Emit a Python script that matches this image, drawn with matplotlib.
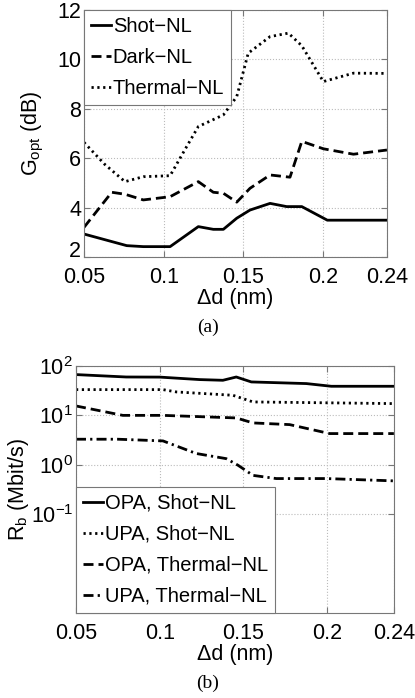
import matplotlib
matplotlib.use('Agg')
import matplotlib.pyplot as plt

plt.rcParams['font.family'] = ['Liberation Sans', 'DejaVu Sans']
plt.rcParams['mathtext.fontset'] = 'custom'
plt.rcParams['mathtext.rm'] = 'Liberation Sans'
plt.rcParams['mathtext.it'] = 'Liberation Sans:italic'

# (a) optimum gain
shot_x = [0.05, 0.0768, 0.0872, 0.104, 0.1217, 0.1311, 0.1374, 0.1458, 0.1541, 0.1667, 0.1771, 0.1866, 0.2026, 0.24]
shot_y = [2.93, 2.46, 2.42, 2.42, 3.23, 3.12, 3.12, 3.57, 3.90, 4.17, 4.04, 4.04, 3.49, 3.49]
dark_x = [0.05, 0.0674, 0.0757, 0.0872, 0.104, 0.1217, 0.1311, 0.1374, 0.1458, 0.1541, 0.1667, 0.1792, 0.1866, 0.2001, 0.219, 0.24]
dark_y = [3.20, 4.62, 4.54, 4.31, 4.44, 5.05, 4.62, 4.58, 4.22, 4.78, 5.32, 5.23, 6.68, 6.38, 6.16, 6.33]
therm_x = [0.05, 0.063, 0.0757, 0.0872, 0.104, 0.1144, 0.1217, 0.1374, 0.1458, 0.153, 0.1667, 0.1782, 0.1866, 0.2001, 0.219, 0.24]
therm_y = [6.64, 5.75, 5.05, 5.25, 5.29, 6.47, 7.28, 7.75, 8.49, 10.25, 10.92, 11.06, 10.55, 9.10, 9.44, 9.43]

# (b) bit rate
opa_shot_x = [0.05, 0.08, 0.1, 0.1239, 0.1378, 0.1458, 0.1548, 0.1877, 0.2026, 0.24]
opa_shot_y = [66.9, 59.8, 59.5, 53.0, 51.3, 59.8, 47.5, 44.0, 38.8, 38.8]
upa_shot_x = [0.05, 0.102, 0.11, 0.1438, 0.1558, 0.24]
upa_shot_y = [33.2, 33.2, 29.8, 25.5, 18.7, 17.3]
opa_therm_x = [0.05, 0.078, 0.102, 0.1458, 0.1558, 0.1777, 0.2016, 0.24]
opa_therm_y = [15.5, 10.0, 10.0, 8.87, 7.03, 6.5, 4.28, 4.28]
upa_therm_x = [0.05, 0.075, 0.102, 0.1219, 0.1398, 0.1468, 0.1558, 0.1697, 0.1996, 0.24]
upa_therm_y = [3.29, 3.29, 3.04, 1.69, 1.33, 0.98, 0.61, 0.526, 0.526, 0.472]

xticks = [0.05, 0.1, 0.15, 0.2, 0.24]
xticklabels = ['0.05', '0.1', '0.15', '0.2', '0.24']

fs = 15.5
lw = 2.0
solid = '-'
dashed = (0, (3.6, 1.8))
dotted = (0, (0.8, 1.3))
dashdot = (0, (3.6, 1.5, 0.8, 1.5))

fig = plt.figure(figsize=(4.15, 6.98), dpi=100)
ax1 = fig.add_axes([0.2024, 0.6318, 0.730, 0.354])
ax2 = fig.add_axes([0.1831, 0.1218, 0.766, 0.3539])

ax1.plot(shot_x, shot_y, color='black', lw=lw, ls=solid, label='Shot\u2212NL')
ax1.plot(dark_x, dark_y, color='black', lw=lw, ls=dashed, label='Dark\u2212NL')
ax1.plot(therm_x, therm_y, color='black', lw=lw, ls=dotted, label='Thermal\u2212NL')
ax1.set_ylim(2, 12)
ax1.set_yticks([2, 4, 6, 8, 10, 12])
ax1.set_ylabel('G$_{\\rm opt}$ (dB)', fontsize=fs, labelpad=8)

ax2.plot(opa_shot_x, opa_shot_y, color='black', lw=lw, ls=solid, label='OPA, Shot\u2212NL')
ax2.plot(upa_shot_x, upa_shot_y, color='black', lw=lw, ls=dotted, label='UPA, Shot\u2212NL')
ax2.plot(opa_therm_x, opa_therm_y, color='black', lw=lw, ls=dashed, label='OPA, Thermal\u2212NL')
ax2.plot(upa_therm_x, upa_therm_y, color='black', lw=lw, ls=dashdot, label='UPA, Thermal\u2212NL')
ax2.set_yscale('log')
ax2.set_ylim(1e-3, 1e2)
ax2.set_yticks([0.1, 1, 10, 100])
ax2.minorticks_off()
ax2.set_ylabel('R$_{\\rm b}$ (Mbit/s)', fontsize=fs, labelpad=0)

for ax in (ax1, ax2):
    ax.set_xlim(0.05, 0.24)
    ax.set_xticks(xticks)
    ax.set_xticklabels(xticklabels)
    ax.tick_params(direction='in', labelsize=fs, color='#777777', top=True, right=True, length=4)
    ax.tick_params(axis='x', pad=7)
    ax.tick_params(axis='y', pad=2)
    ax.set_xlabel('\u0394d (nm)', fontsize=fs, labelpad=0)
    ax.grid(True, ls=':', color='#bbbbbb', lw=0.8)
    for s in ax.spines.values():
        s.set_color('#777777')

# lift the lowest y label a little, as in the original
ax1.get_yticklabels()[0].set_verticalalignment('baseline')

leg_kw = dict(fontsize=14.5, fancybox=False, edgecolor='#777777', framealpha=1,
              borderaxespad=0, borderpad=0.35, handlelength=1.0, handletextpad=0.08,
              labelspacing=0.6)
l1 = ax1.legend(loc='upper left', **leg_kw)
l1.get_frame().set_linewidth(0.8)
l2 = ax2.legend(loc='lower left', **leg_kw)
l2.get_frame().set_linewidth(0.8)

fig.text(0.5, 1 - 327 / 698, '(a)', ha='center', va='center', fontsize=14, family='Liberation Serif')
fig.text(0.5, 1 - 683 / 698, '(b)', ha='center', va='center', fontsize=14, family='Liberation Serif')

fig.savefig('out.png', dpi=100)
